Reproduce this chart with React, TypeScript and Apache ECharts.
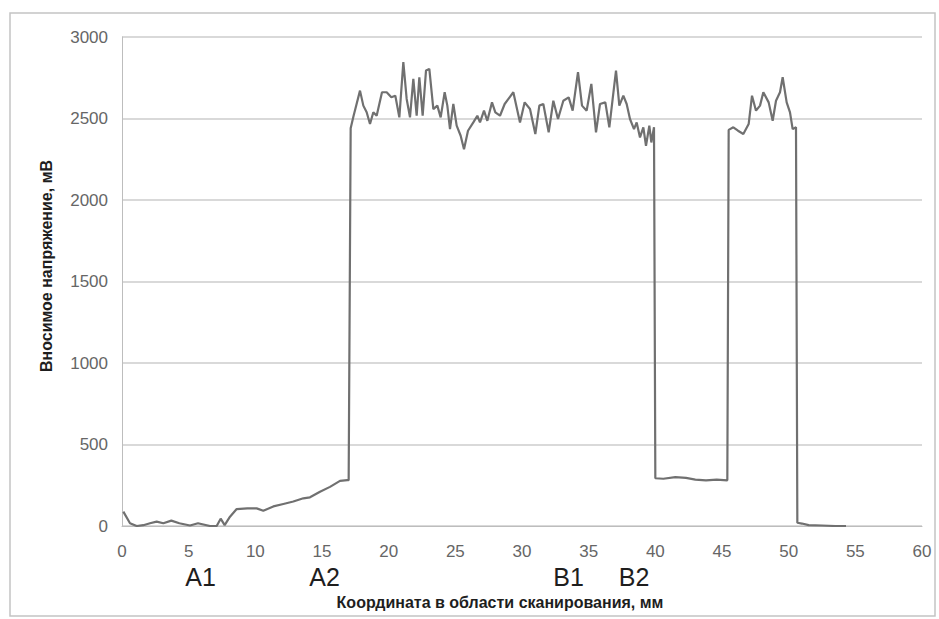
import React, { useEffect, useRef } from "react";
import * as echarts from "echarts";

// Scan coordinate, mm
const coordMm: number[] = [
  0.1, 0.6, 1.1, 1.6, 2.1, 2.6, 3.1, 3.7, 4.3, 5.1, 5.7, 6.6, 7.1, 7.4, 7.7, 8.1, 8.6, 9.4, 10.1, 10.6,
  11.35, 12.1, 12.85, 13.6, 14.1, 14.85, 15.6, 16.35, 16.9, 17.0, 17.15,
  17.37, 17.5, 17.85, 18.1, 18.35, 18.6, 18.85, 19.1, 19.5, 19.85, 20.2, 20.5, 20.8, 21.1, 21.35, 21.6,
  21.85, 22.1, 22.3, 22.55, 22.8, 23.05, 23.35, 23.65, 23.9, 24.2, 24.4, 24.6, 24.85, 25.1, 25.4, 25.65,
  25.95, 26.35, 26.65, 26.85, 27.15, 27.4, 27.75, 28.0, 28.35, 28.7, 29.35, 29.85, 30.2, 30.6, 31.0, 31.3,
  31.6, 32.0, 32.35, 32.7, 33.1, 33.5, 33.8, 34.2, 34.5, 34.85, 35.2, 35.55, 35.85, 36.25, 36.55, 36.8,
  37.05, 37.3, 37.6, 37.85, 38.1, 38.4, 38.6, 38.85, 39.1, 39.3, 39.55, 39.7, 39.9,
  40.0, 40.6, 41.5, 42.3, 43.0, 43.8, 44.6, 45.4,
  45.5, 45.85, 46.2, 46.6, 47.0, 47.25, 47.55, 47.85, 48.1, 48.5, 48.8, 49.05, 49.35, 49.55, 49.85, 50.1,
  50.3, 50.55, 50.65, 51.0, 51.5, 52.5, 53.5, 54.3,
];

// Applied voltage, mV
const voltageMv: number[] = [
  88, 17, 0, 5, 17, 27, 17, 33, 17, 3, 17, 0, 0, 45, 5, 57, 104, 108, 108, 94,
  120, 135, 150, 170, 176, 210, 240, 277, 281, 281, 2440,
  2517, 2558, 2671, 2579, 2538, 2466, 2538, 2517, 2661, 2661, 2630, 2640, 2507, 2846, 2620, 2507,
  2743, 2517, 2753, 2517, 2794, 2804, 2558, 2579, 2507, 2661, 2579, 2435, 2589, 2456, 2394, 2312,
  2425, 2476, 2517, 2476, 2548, 2486, 2599, 2538, 2517, 2589, 2661, 2476, 2599, 2558, 2405, 2579,
  2589, 2415, 2609, 2497, 2609, 2630, 2548, 2784, 2579, 2548, 2712, 2415, 2589, 2599, 2446, 2620,
  2794, 2579, 2640, 2589, 2497, 2435, 2476, 2384, 2446, 2333, 2456, 2353, 2446,
  293, 290, 300, 295, 285, 280, 285, 280,
  2430, 2446, 2425, 2405, 2466, 2640, 2548, 2579, 2661, 2599, 2486, 2609, 2661, 2753, 2599, 2538,
  2435, 2446, 20, 15, 5, 3, 0, 0,
];

const xTicks = { min: 0, max: 60, interval: 5 };
const yTicks = { min: 0, max: 3000, interval: 500 };

const yTitle = "Вносимое напряжение, мВ";
const xTitle = "Координата в области сканирования, мм";

const markerLabels: string[] = ["A1", "A2", "B1", "B2"];
const markerPosMm: number[] = [5.9, 15.2, 33.5, 38.4];

export default function App() {
  const ref = useRef<HTMLDivElement>(null);

  useEffect(() => {
    if (!ref.current) return;
    const chart = echarts.init(ref.current, null, { renderer: "svg" });
    const data = coordMm.map((x, i) => [x, voltageMv[i]]);

    const gridLeft = 122;
    const gridRight = 17;
    const plotW = 939 - gridLeft - gridRight;
    const xToPx = (v: number) => gridLeft + (v / xTicks.max) * plotW;
    const font = "Liberation Sans, Arial, sans-serif";

    const markers = markerLabels.map((t, i) => ({
      type: "text",
      x: xToPx(markerPosMm[i]),
      y: 577,
      style: {
        text: t,
        fontSize: 25,
        fontFamily: font,
        fill: "#1e1e1e",
        align: "center",
        verticalAlign: "middle",
      },
    }));

    chart.setOption({
      animation: false,
      backgroundColor: "#ffffff",
      grid: { left: gridLeft, right: gridRight, top: 37, bottom: 93, containLabel: false },
      xAxis: {
        type: "value",
        min: xTicks.min,
        max: xTicks.max,
        interval: xTicks.interval,
        axisLine: { show: true, lineStyle: { color: "#bdbdbd", width: 1 } },
        axisTick: { show: false },
        splitLine: { show: false },
        axisLabel: {
          color: "#666",
          fontSize: 17,
          margin: 17,
          fontFamily: font,
          formatter: (v: number) => String(v),
        },
      },
      yAxis: {
        type: "value",
        min: yTicks.min,
        max: yTicks.max,
        interval: yTicks.interval,
        axisLine: { show: true, lineStyle: { color: "#bdbdbd", width: 1 } },
        axisTick: { show: false },
        splitLine: { show: true, lineStyle: { color: "#cccccc", width: 1.5 } },
        axisLabel: {
          color: "#666",
          fontSize: 17,
          margin: 14,
          fontFamily: font,
          formatter: (v: number) => String(v),
        },
      },
      series: [
        {
          type: "line",
          data,
          showSymbol: false,
          symbol: "none",
          lineStyle: { color: "#707070", width: 2.2 },
          itemStyle: { color: "#707070" },
        },
      ],
      graphic: [
        {
          type: "rect",
          shape: { x: 10, y: 13, width: 925, height: 603 },
          style: { fill: "none", stroke: "#c4c4c4", lineWidth: 1.5 },
          silent: true,
        },
        {
          type: "text",
          x: 46,
          y: 266,
          rotation: Math.PI / 2,
          style: {
            text: yTitle,
            fontSize: 16,
            fontWeight: "bold",
            fontFamily: font,
            fill: "#1e1e1e",
            align: "center",
            verticalAlign: "middle",
          },
        },
        {
          type: "text",
          x: 500,
          y: 602,
          style: {
            text: xTitle,
            fontSize: 16,
            fontWeight: "bold",
            fontFamily: font,
            fill: "#1e1e1e",
            align: "center",
            verticalAlign: "middle",
          },
        },
        ...markers,
      ],
    });

    return () => chart.dispose();
  }, []);

  return (
    <div
      ref={ref}
      style={{ position: "fixed", left: 0, top: 0, width: 939, height: 619, background: "#fff" }}
    />
  );
}
